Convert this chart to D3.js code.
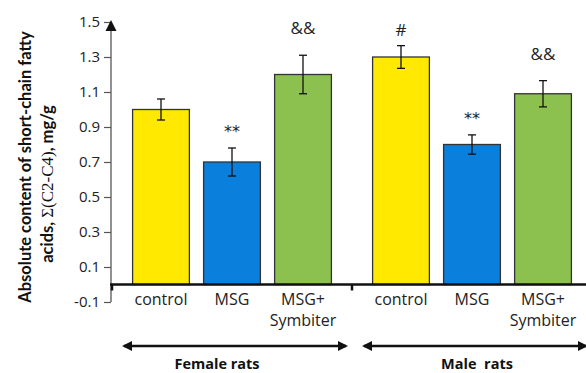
<!DOCTYPE html>
<html>
<head>
<meta charset="utf-8">
<script src="https://cdn.jsdelivr.net/npm/d3@7"></script>
<style>
  body { margin: 0; background: #fff; }
  text { font-family: "Open Sans", sans-serif; }
</style>
</head>
<body>
<div id="chart"></div>
<script>
// Chart data
const groups = ["Female rats", "Male rats"];
const categories = ["control", "MSG", "MSG+|Symbiter"];
const femaleValues = [1.0, 0.7, 1.2];
const femaleErrors = [0.06, 0.08, 0.11];
const femaleMarks = ["", "**", "&&"];
const maleValues = [1.3, 0.8, 1.09];
const maleErrors = [0.065, 0.055, 0.075];
const maleMarks = ["#", "**", "&&"];
const yTicks = [-0.1, 0.1, 0.3, 0.5, 0.7, 0.9, 1.1, 1.3, 1.5];
const barColors = ["#FFE900", "#0A80DC", "#8CC14F"];

const width = 586;
const height = 373;

const svg = d3
  .select("#chart")
  .append("svg")
  .attr("width", width)
  .attr("height", height);

const defs = svg.append("defs");

// scales
const y = d3.scaleLinear().domain([-0.1, 1.5]).range([302, 22]);
const xGroup = d3.scaleBand().domain(groups).range([112, 592]);
const xCat = d3
  .scaleBand()
  .domain(categories)
  .range([0, xGroup.bandwidth()])
  .paddingInner(0.2)
  .paddingOuter(0.29);

const rows = [];
groups.forEach((g, gi) => {
  const vals = gi === 0 ? femaleValues : maleValues;
  const errs = gi === 0 ? femaleErrors : maleErrors;
  const marks = gi === 0 ? femaleMarks : maleMarks;
  categories.forEach((c, ci) => {
    rows.push({ group: g, cat: c, value: vals[ci], err: errs[ci], mark: marks[ci], color: barColors[ci] });
  });
});
const cx = (d) => xGroup(d.group) + xCat(d.cat) + xCat.bandwidth() / 2;

// y axis ticks
const yAxis = svg
  .append("g")
  .attr("transform", "translate(111,0)")
  .call(
    d3.axisLeft(y)
      .tickValues(yTicks)
      .tickSize(7)
      .tickSizeOuter(0)
      .tickFormat((d) => d3.format(".1f")(d).replace("−", "-"))
  );
yAxis.select(".domain").remove();
yAxis.selectAll(".tick line").attr("stroke", "#555").attr("stroke-width", 1.2);
yAxis
  .selectAll(".tick text")
  .attr("x", -11)
  .style("font-family", "Open Sans, sans-serif")
  .style("font-size", "15px")
  .attr("fill", "#222");

// y axis line with arrow head
svg
  .append("line")
  .attr("x1", 111)
  .attr("x2", 111)
  .attr("y1", y(-0.1))
  .attr("y2", y(1.5) + 4)
  .attr("stroke", "#555")
  .attr("stroke-width", 1.3);
svg
  .append("path")
  .attr("d", `M111,${y(1.5) - 2} L105.5,${y(1.5) + 9} L116.5,${y(1.5) + 9} Z`)
  .attr("fill", "#111");

// bars
svg
  .selectAll("rect.bar")
  .data(rows)
  .enter()
  .append("rect")
  .attr("class", "bar")
  .attr("x", (d) => xGroup(d.group) + xCat(d.cat))
  .attr("y", (d) => y(d.value))
  .attr("width", xCat.bandwidth())
  .attr("height", (d) => y(0) - y(d.value))
  .attr("fill", (d) => d.color)
  .attr("stroke", "#333")
  .attr("stroke-width", 1.3);

// error bars
const eb = svg.selectAll("g.err").data(rows).enter().append("g").attr("class", "err");
eb.append("line")
  .attr("x1", cx)
  .attr("x2", cx)
  .attr("y1", (d) => y(d.value + d.err))
  .attr("y2", (d) => y(d.value - d.err))
  .attr("stroke", "#111")
  .attr("stroke-width", 1.3);
[1, -1].forEach((s) => {
  eb.append("line")
    .attr("x1", (d) => cx(d) - 4)
    .attr("x2", (d) => cx(d) + 4)
    .attr("y1", (d) => y(d.value + s * d.err))
    .attr("y2", (d) => y(d.value + s * d.err))
    .attr("stroke", "#111")
    .attr("stroke-width", 1.3);
});

// significance marks
const markGap = { "**": 11, "#": 10, "&&": 21 };
svg
  .selectAll("text.mark")
  .data(rows.filter((d) => d.mark))
  .enter()
  .append("text")
  .attr("class", "mark")
  .attr("x", cx)
  .attr("y", (d) => y(d.value + d.err) - markGap[d.mark])
  .attr("text-anchor", "middle")
  .style("font-family", (d) => (d.mark === "**" ? "DejaVu Sans, sans-serif" : "Open Sans, sans-serif"))
  .style("font-size", (d) => (d.mark === "**" ? "16px" : "17px"))
  .attr("fill", "#222")
  .text((d) => d.mark);

// baseline at zero
svg
  .append("line")
  .attr("x1", 110)
  .attr("x2", width)
  .attr("y1", y(0))
  .attr("y2", y(0))
  .attr("stroke", "#111")
  .attr("stroke-width", 2.5);
svg
  .selectAll("line.sep")
  .data(groups)
  .enter()
  .append("line")
  .attr("class", "sep")
  .attr("x1", (g) => xGroup(g))
  .attr("x2", (g) => xGroup(g))
  .attr("y1", y(0))
  .attr("y2", y(0) + 6)
  .attr("stroke", "#111")
  .attr("stroke-width", 2.5);

// category labels
const catLabels = svg
  .selectAll("text.cat")
  .data(rows)
  .enter()
  .append("text")
  .attr("class", "cat")
  .attr("text-anchor", "middle")
  .style("font-family", "Open Sans, sans-serif")
  .style("font-size", "16px")
  .attr("fill", "#222");
catLabels
  .selectAll("tspan")
  .data((d) => d.cat.split("|").map((t) => ({ t, x: cx(d) })))
  .enter()
  .append("tspan")
  .attr("x", (d) => d.x)
  .attr("y", (d, i) => 305 + i * 21)
  .text((d) => d.t);

// group arrows
defs
  .append("marker")
  .attr("id", "arr")
  .attr("viewBox", "0 0 10 10")
  .attr("refX", 8)
  .attr("refY", 5)
  .attr("markerWidth", 4.5)
  .attr("markerHeight", 4)
  .attr("orient", "auto-start-reverse")
  .append("path")
  .attr("d", "M0,0 L10,5 L0,10 Z")
  .attr("fill", "#111");

svg
  .selectAll("line.grp")
  .data(groups)
  .enter()
  .append("line")
  .attr("class", "grp")
  .attr("x1", (g) => xGroup(g) + 12)
  .attr("x2", (g) => xGroup(g) + xGroup.bandwidth() - 6)
  .attr("y1", 346)
  .attr("y2", 346)
  .attr("stroke", "#111")
  .attr("stroke-width", 2.5)
  .attr("marker-start", "url(#arr)")
  .attr("marker-end", "url(#arr)");

const groupShift = [-15, 5];
svg
  .selectAll("text.grp")
  .data(groups)
  .enter()
  .append("text")
  .attr("class", "grp")
  .attr("x", (g, i) => xGroup(g) + xGroup.bandwidth() / 2 + groupShift[i])
  .attr("y", 369)
  .attr("text-anchor", "middle")
  .style("font-family", "Open Sans, sans-serif")
  .style("font-weight", "bold")
  .style("font-size", "14.5px")
  .attr("fill", "#111")
  .attr("xml:space", "preserve")
  .text((g) => (g === "Male rats" ? "Male  rats" : g));

// y axis title
svg
  .append("text")
  .attr("transform", "translate(31,167) rotate(-90)")
  .attr("text-anchor", "middle")
  .style("font-family", "Lato, sans-serif")
  .style("font-weight", "bold")
  .style("font-size", "16.5px")
  .attr("fill", "#111")
  .text("Absolute content of short-chain fatty");

const t2 = svg
  .append("text")
  .attr("transform", "translate(53,184) rotate(-90)")
  .attr("text-anchor", "middle")
  .style("font-family", "Lato, sans-serif")
  .style("font-weight", "bold")
  .style("font-size", "16.5px")
  .attr("fill", "#111");
t2.append("tspan").text("acids, ");
t2.append("tspan")
  .style("font-family", "Liberation Serif, serif")
  .style("font-weight", "normal")
  .style("font-size", "17px")
  .text("Σ(C2-C4)");
t2.append("tspan").text(", mg/g");
</script>
</body>
</html>
